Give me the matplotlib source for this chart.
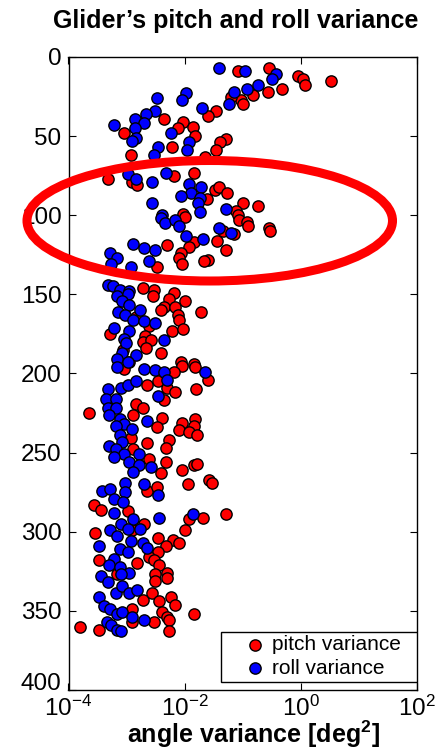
import numpy as np
import matplotlib
matplotlib.use('Agg')
import matplotlib.pyplot as plt
import matplotlib.transforms as mtransforms
from matplotlib.patches import Ellipse, Rectangle
from matplotlib.ticker import NullLocator, FixedLocator

plt.rcParams['font.family'] = ['Liberation Sans', 'DejaVu Sans']
plt.rcParams['mathtext.fontset'] = 'custom'
plt.rcParams['mathtext.rm'] = 'Liberation Sans'
plt.rcParams['mathtext.it'] = 'Liberation Sans:italic'
plt.rcParams['mathtext.bf'] = 'Liberation Sans:bold'

# ---------------- data (log10 of angle variance [deg^2], depth) ----------------
pitch_log_var = [
    -1.08, -0.54, -0.04, 0.04, 0.08, 0.52, -0.32, -0.56, -0.82, -1.02, -1.00, -1.20, -1.46, -1.60, -2.36, -2.02, -1.86, -2.12, -3.04, -1.82, -1.28, -1.38, -1.46, -2.22, -2.92, -1.64,
    -3.32, -2.90, -2.82, -2.18, -1.84, -1.48, -1.40, -1.26, -1.62, -1.00, -0.74, -1.12, -1.08, -1.06, -0.92, -0.90, -0.54, -0.52, -2.02, -2.00, -1.34, -1.44, -1.14, -1.28, -1.84, -1.92, -2.06, -2.10, -2.30, -1.60, -1.66, -2.04, -2.48,
    -2.72, -2.52, -2.54, -2.18, -2.26, -2.00, -2.36, -2.40, -2.16, -1.72, -2.12, -2.10, -2.22, -2.02, -2.84, -2.62, -3.28, -2.68, -2.72, -2.58, -2.66, -3.06, -2.40, -2.96, -2.06, -1.84,
    -3.04, -2.04, -1.82, -1.60, -2.64, -2.46, -2.18, -2.30, -2.16, -2.36, -1.80, -3.64, -2.84, -2.72, -2.88, -2.38, -2.48, -2.04, -1.82, -1.84, -2.10, -1.92, -1.78, -2.26, -2.92, -2.64, -2.32, -2.88, -2.62, -2.32, -2.04, -1.84, -1.78, -2.40,
    -1.58, -1.52, -1.94, -2.64, -2.48, -3.56, -3.44, -2.98, -1.92, -1.68, -1.28, -2.70, -2.90, -3.54, -2.00, -2.46, -2.20, -2.10, -2.32, -2.46, -2.62, -2.52, -3.48, -2.82, -2.44, -2.30, -2.50, -3.16,
    -2.50, -2.30, -2.72, -2.56, -2.44, -2.24, -2.16, -2.38, -2.30, -2.26, -2.52, -2.90, -2.90, -1.84, -3.80, -3.48, -2.26,
]
pitch_depth = [
    9, 7, 12, 14, 18, 15, 20, 22, 24, 27, 30, 25, 34, 37, 39, 41, 44, 45, 48, 50, 52, 54, 59, 57, 62, 63,
    77, 79, 81, 75, 73, 84, 82, 86, 90, 92, 94, 97, 100, 103, 104, 107, 108, 110, 99, 101, 110, 116, 112, 122, 117, 120, 124, 127, 119, 128, 129, 131, 133,
    146, 147, 151, 149, 153, 154, 158, 160, 158, 161, 163, 166, 173, 172, 164, 170, 175, 176, 180, 179, 184, 185, 187, 193, 193, 194,
    197, 195, 196, 204, 207, 205, 199, 209, 212, 217, 210, 225, 219, 222, 226, 228, 234, 231, 229, 233, 236, 237, 239, 242, 241, 244, 247, 248, 254, 256, 261, 258, 257, 263,
    267, 269, 270, 274, 272, 283, 286, 287, 292, 291, 289, 295, 299, 301, 299, 304, 305, 307, 309, 313, 316, 318, 318, 320, 321, 326, 327, 327,
    331, 329, 343, 339, 344, 341, 346, 351, 354, 356, 357, 357, 349, 352, 360, 362, 363,
]
roll_log_var = [
    -1.40, -0.96, -0.42, -0.50, -0.74, -0.92, -1.14, -2.48, -1.98, -2.04, -1.70, -1.24, -2.50, -2.66, -2.86, -2.70, -3.22, -2.86, -2.84, -2.90, -2.24, -1.92, -2.46, -2.52, -1.96,
    -2.98, -2.84, -2.32, -2.56, -1.92, -1.72, -1.88, -2.06, -1.74, -1.76, -1.74, -2.56, -2.38, -2.40, -2.34, -2.16, -2.10, -1.28, -1.40, -1.20, -1.98, -1.68, -2.88, -2.70, -2.50, -3.28, -3.16, -2.62, -2.92, -3.26,
    -3.32, -3.24, -3.12, -2.96, -3.16, -2.98, -3.08, -2.96, -2.76, -3.14, -3.02, -2.88, -2.70, -2.50, -3.22, -2.96, -3.04, -3.00, -2.36, -3.08, -2.84, -3.16, -2.98, -2.70, -2.50, -1.64,
    -3.16, -2.36, -2.30, -3.32, -3.10, -2.98, -2.84, -2.46, -3.36, -3.18, -3.32, -3.18, -3.30, -3.12, -3.04, -3.18, -2.90, -3.12, -3.08, -3.30, -3.18, -3.04, -2.78, -3.22, -2.96, -2.78, -2.58, -2.88, -2.64,
    -3.02, -2.70, -3.42, -3.28, -3.02, -3.22, -3.06, -3.22, -2.46, -2.44, -1.86, -2.88, -3.10, -2.98, -2.76, -3.28, -3.16, -2.92, -2.72, -2.64, -3.48, -3.12, -2.98, -3.22, -3.30, -3.12, -3.44, -2.96,
    -3.32, -3.10, -3.48, -3.18, -3.08, -2.96, -2.82, -3.38, -3.28, -3.16, -3.08, -2.90, -2.70, -3.34, -3.26, -3.16, -3.10,
]
roll_depth = [
    7, 9, 11, 14, 18, 20, 22, 26, 23, 27, 32, 30, 34, 36, 39, 42, 43, 45, 51, 53, 48, 54, 57, 62, 59,
    74, 77, 73, 79, 80, 82, 86, 88, 89, 92, 98, 92, 100, 102, 105, 103, 107, 96, 108, 111, 113, 115, 118, 121, 122, 124, 127, 129, 133, 131,
    144, 145, 147, 148, 151, 150, 154, 157, 160, 161, 163, 166, 167, 168, 171, 173, 178, 181, 179, 187, 188, 191, 193, 197, 198, 199,
    196, 199, 204, 210, 209, 207, 205, 214, 216, 216, 222, 222, 226, 229, 232, 233, 235, 239, 243, 246, 248, 251, 251, 253, 256, 258, 259, 262, 230,
    269, 270, 274, 273, 275, 279, 281, 288, 277, 291, 289, 292, 295, 298, 298, 299, 303, 306, 307, 310, 309, 311, 313, 317, 321, 322, 328, 326,
    332, 327, 341, 339, 334, 339, 337, 347, 349, 352, 351, 354, 356, 357, 359, 362, 363,
]
series_labels = ['pitch variance', 'roll variance']
x_ticks = [1e-4, 1e-2, 1e0, 1e2]
y_ticks = [0, 50, 100, 150, 200, 250, 300, 350, 400]

pitch_var = 10.0 ** np.array(pitch_log_var)
roll_var = 10.0 ** np.array(roll_log_var)

# ---------------- figure ----------------
W, H = 446, 752
fig = plt.figure(figsize=(W / 100, H / 100), dpi=100)
L, R, T, B = 68.5, 416.5, 57, 690
ax = fig.add_axes([L / W, 1 - B / H, (R - L) / W, (B - T) / H])

ms = 66
ax.scatter(pitch_var, pitch_depth, s=ms, c='#ff0000', edgecolors='black',
           linewidths=1.0, label=series_labels[0], zorder=3)
ax.scatter(roll_var, roll_depth, s=ms, c='#0000ff', edgecolors='black',
           linewidths=1.0, label=series_labels[1], zorder=3)

ax.set_xscale('log')
ax.set_xlim(1e-4, 1e2)
ax.set_ylim(400, 0)
ax.xaxis.set_major_locator(FixedLocator(x_ticks))
ax.xaxis.set_minor_locator(NullLocator())
ax.set_yticks(y_ticks)
ax.tick_params(direction='in', top=True, right=True, length=5, width=0.8,
               labelsize=17.5, colors='black')
ax.tick_params(axis='y', pad=5)
ax.tick_params(axis='x', pad=4)
for sp in ax.spines.values():
    sp.set_linewidth(1.0)

# lift the bottom y tick label slightly (as in the reference) so it clears the x labels
last_tick = ax.yaxis.get_major_ticks()[-1]
last_tick.label1.set_transform(last_tick.label1.get_transform() +
                               mtransforms.ScaledTranslation(0, 6 / 72, fig.dpi_scale_trans))

# legend box + legend
ax.add_patch(Rectangle(((221 - L) / (R - L), (B - 682) / (B - T)),
                       (R - 221) / (R - L), 50 / (B - T),
                       transform=ax.transAxes, facecolor='white',
                       edgecolor='black', linewidth=1.0, zorder=5))
leg = ax.legend(loc='center left',
                bbox_to_anchor=((244.6 - L) / (R - L), (B - 656.5) / (B - T)),
                frameon=False, fontsize=15, handlelength=1.0,
                handletextpad=0.32, borderpad=0.0, labelspacing=0.22,
                scatterpoints=1, borderaxespad=0)
leg.set_zorder(6)

# title and x label
fig.text(236 / W, 1 - 28 / H, "Glider\u2019s pitch and roll variance",
         ha='center', va='baseline', fontsize=18, fontweight='bold')
fig.text(253 / W, 1 - 743 / H, r"angle variance [deg$^{\mathbf{2}}$]",
         ha='center', va='baseline', fontsize=18, fontweight='bold')

# highlight ellipse
fig.add_artist(Ellipse((209.75 / W, 1 - 220.75 / H), 365.5 / W, 120.5 / H,
                       transform=fig.transFigure, fill=False,
                       edgecolor='#ff0000', linewidth=6.5, zorder=10,
                       clip_on=False))

fig.savefig('out.png', dpi=100)
